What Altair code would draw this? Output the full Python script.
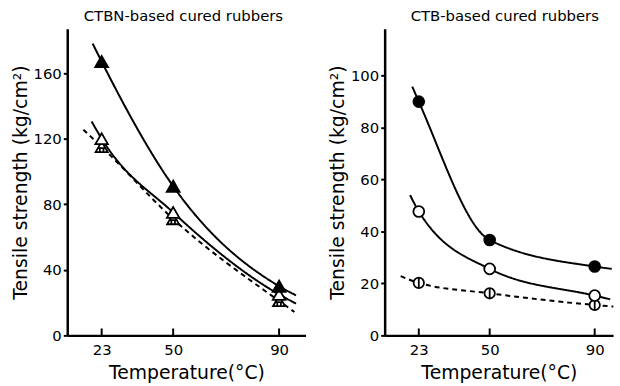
import altair as alt
import pandas as pd

# ---------------- data ----------------
temps = [23, 50, 90]
x_tick_values = [23, 50, 90]

# CTBN-based cured rubbers (left panel)
ctbn_filled = [167, 91, 30]
ctbn_open = [120, 75, 25]
ctbn_dash = [115, 71, 21]
# drawn fitting curves (start, through points, end)
ctbn_filled_cx = [19.6, 23, 50, 90, 96.4]
ctbn_filled_cy = [178, 167, 91, 30, 24.4]
ctbn_open_cx = [19.2, 23, 50, 90, 96.4]
ctbn_open_cy = [130.5, 120, 75, 25, 19.4]
ctbn_dash_cx = [16.1, 23, 50, 90, 95.8]
ctbn_dash_cy = [125.5, 115, 71, 21, 14.3]
ctbn_yticks = [0, 40, 80, 120, 160]

# CTB-based cured rubbers (right panel)
ctb_filled = [90, 36.7, 26.5]
ctb_open = [47.7, 25.6, 15.3]
ctb_dash = [20.2, 16.2, 11.7]
ctb_filled_cx = [20.5, 23, 50, 90, 96.5]
ctb_filled_cy = [95.8, 90, 36.7, 26.5, 25.6]
ctb_open_cx = [19.7, 23, 50, 90, 95.9]
ctb_open_cy = [54, 47.7, 25.6, 15.3, 13.9]
ctb_dash_cx = [16.1, 23, 50, 90, 97.1]
ctb_dash_cy = [22.8, 20.2, 16.2, 11.7, 11.1]
ctb_yticks = [0, 20, 40, 60, 80, 100]

FONT = "DejaVu Sans"
TRI_BARS = ("M0,-0.866L-1,0.866L1,0.866Z"
            "M-0.6,0.2L0.6,0.2"
            "M-0.3,0.2L-0.3,0.866M0.3,0.2L0.3,0.866")
CIRC_BAR = ("M1,0A1,1 0 1,1 -1,0A1,1 0 1,1 1,0Z"
            "M0,-1L0,1")


def panel(title, title_dx, kind, filled, opn, dash, fcx, fcy, ocx, ocy, dcx, dcy,
          xdom, ydom, yticks, w, h):
    xs = alt.Scale(domain=xdom, nice=False, zero=False)
    ys = alt.Scale(domain=ydom, nice=False)
    xax = alt.Axis(values=x_tick_values, title="Temperature(°C)", ticks=False,
                   labelPadding=7, titlePadding=7, grid=False)
    yax = alt.Axis(values=yticks, title="Tensile strength (kg/cm²)",
                   tickSize=4, labelPadding=2, titlePadding=3, grid=False)

    def curve(cx, cy, dashed):
        d = pd.DataFrame({"x": cx, "y": cy})
        m = alt.Chart(d).mark_line(interpolate="monotone", color="black",
                                   strokeWidth=2,
                                   strokeDash=[5, 4] if dashed else [1, 0])
        return m.encode(x=alt.X("x:Q", scale=xs, axis=xax),
                        y=alt.Y("y:Q", scale=ys, axis=yax))

    def pts(vals, shape, fill, size):
        d = pd.DataFrame({"x": temps, "y": vals})
        return alt.Chart(d).mark_point(shape=shape, filled=True, fill=fill,
                                       stroke="black", strokeWidth=1.8,
                                       size=size, opacity=1).encode(
            x=alt.X("x:Q", scale=xs), y=alt.Y("y:Q", scale=ys))

    ticks = alt.Chart(pd.DataFrame({"t": x_tick_values})).mark_rule(
        color="black", strokeWidth=2).encode(
        x=alt.X("t:Q", scale=xs), y=alt.value(h - 7), y2=alt.value(h))

    if kind == "tri":
        marks = [pts(dash, TRI_BARS, "white", 150),
                 pts(opn, "triangle-up", "white", 160),
                 pts(filled, "triangle-up", "black", 170)]
    else:
        marks = [pts(dash, CIRC_BAR, "white", 110),
                 pts(opn, "circle", "white", 120),
                 pts(filled, "circle", "black", 120)]

    layers = [curve(dcx, dcy, True), curve(ocx, ocy, False),
              curve(fcx, fcy, False), ticks] + marks
    return alt.layer(*layers).properties(
        width=w, height=h,
        title=alt.TitleParams(title, fontSize=15, fontWeight="normal",
                              font=FONT, anchor="middle", offset=5,
                              dx=title_dx, color="black"))


left = panel("CTBN-based cured rubbers", -3, "tri", ctbn_filled, ctbn_open, ctbn_dash,
             ctbn_filled_cx, ctbn_filled_cy, ctbn_open_cx, ctbn_open_cy,
             ctbn_dash_cx, ctbn_dash_cy, [10, 100], [0, 187], ctbn_yticks, 241, 310)
right = panel("CTB-based cured rubbers", 6, "circ", ctb_filled, ctb_open, ctb_dash,
              ctb_filled_cx, ctb_filled_cy, ctb_open_cx, ctb_open_cy,
              ctb_dash_cx, ctb_dash_cy, [10, 97], [0, 118], ctb_yticks, 231, 310)

chart = alt.hconcat(left, right, spacing=23).properties(
    padding={"left": 11, "top": 7, "right": 2, "bottom": 0}
).configure(background="white").configure_view(stroke=None).configure_axis(
    domainColor="black", domainWidth=2.5, tickColor="black", tickWidth=2,
    grid=False, labelFont=FONT, labelFontSize=15, labelColor="black",
    titleFont=FONT, titleFontSize=19, titleFontWeight="normal",
    titleColor="black"
)

chart.save("out.html", embed_options={"renderer": "svg", "actions": False})
